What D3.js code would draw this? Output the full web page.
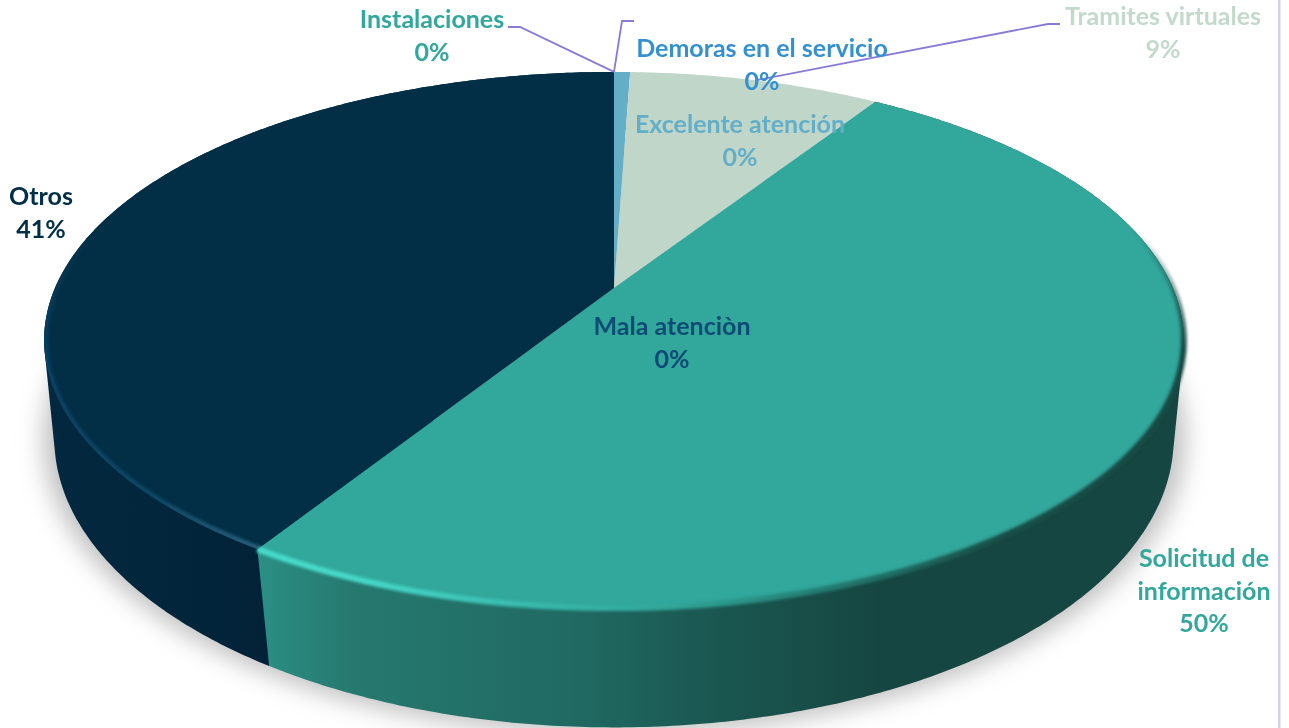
<!DOCTYPE html>
<html>
<head>
<meta charset="utf-8">
<script src="https://cdn.jsdelivr.net/npm/d3@7"></script>
<style>
html, body { margin: 0; padding: 0; background: #fff; overflow: hidden; }
svg { display: block; }
text { font-family: Lato, sans-serif; font-weight: 700; font-size: 25px; text-anchor: middle; }
</style>
</head>
<body>
<div class="visContainer"></div>
<script>
const w = 1289;
const h = 728;

// clockwise from twelve o'clock
const categories = ['Excelente atención', 'Tramites virtuales', 'Solicitud de información', 'Otros', 'Mala atenciòn', 'Demoras en el servicio', 'Instalaciones'];
const values = [0.55, 8.6, 49.8, 41.05, 0, 0, 0];
const percents = ['0%', '9%', '50%', '41%', '0%', '0%', '0%'];
const sliceColors = ['#64aec8', '#bfd6c8', '#32a79c', '#022f46', '#0f4c75', '#3490d0', '#32a79c'];
const labelColors = ['#64aec8', '#c3d9cb', '#32a79c', '#032f47', '#0f4c75', '#3490d0', '#32a79c'];
const labelLines = [['Excelente atención'], ['Tramites virtuales'], ['Solicitud de', 'información'], ['Otros'], ['Mala atenciòn'], ['Demoras en el servicio'], ['Instalaciones']];
const labelX = [740, 1163, 1204, 41, 672, 762, 432];
const labelY = [133, 25, 567, 205, 335, 57, 28];

const lineGap = 32.5;
const pieCx = 614;

// the disc is a circle seen in perspective, so the hub is not the middle of the ellipse
const topFace = { cy: 288, a: 559, b: 258, k: 0.194 };
const bottomFace = { cy: 388, a: 551, b: 280, k: 0.175 };

function project(face, angle) {
	const d = 1 + face.k * Math.cos(angle);
	return [pieCx + (face.a * Math.sin(angle)) / d, face.cy - (face.b * Math.cos(angle)) / d];
}

function rim(face, a0, a1) {
	const n = Math.max(2, Math.ceil(Math.abs(a1 - a0) / 0.01));
	return d3.range(n + 1).map((i) => project(face, a0 + ((a1 - a0) * i) / n));
}

const slices = d3.pie().sort(null).value((d) => d)(values);
const line = d3.line();

const svg = d3.select('.visContainer').append('svg').attr('width', w).attr('height', h);
const defs = svg.append('defs');

function blur(id, amount) {
	defs.append('filter')
		.attr('id', id)
		.attr('x', '-20%')
		.attr('y', '-20%')
		.attr('width', '140%')
		.attr('height', '140%')
		.append('feGaussianBlur')
		.attr('stdDeviation', amount);
}
blur('shadowBlur', 12);
blur('rimBlur', 1.7);
blur('textBlur', 0.35);

function gradient(id, x1, x2, y1, y2, stops) {
	const g = defs.append('linearGradient')
		.attr('id', id)
		.attr('gradientUnits', 'userSpaceOnUse')
		.attr('x1', x1)
		.attr('x2', x2)
		.attr('y1', y1)
		.attr('y2', y2);
	stops.forEach((s) => g.append('stop').attr('offset', s[0]).attr('stop-color', s[1]));
}

gradient('tealSide', 258, 880, 0, 0, [[0, '#2b8f85'], [0.15, '#26796f'], [0.5, '#206a63'], [0.75, '#1a5650'], [1, '#164641']]);
gradient('navySide', 40, 265, 0, 0, [[0, '#03283f'], [0.5, '#02263c'], [1, '#022237']]);
gradient('tealRim', 258, 1184, 0, 0, [[0, '#47dccb'], [0.12, '#45d8c8'], [0.3, '#38b9ac'], [0.45, '#30a598'], [0.62, '#227a70'], [0.8, '#175048'], [1, '#154a44']]);
gradient('navyRim', 40, 260, 0, 0, [[0, '#064062'], [0.5, '#0d4765'], [1, '#2a5f7c']]);
gradient('rimFade', 0, 0, 230, 350, [[0, '#000'], [1, '#fff']]);

defs.append('mask')
	.attr('id', 'rimMask')
	.attr('maskUnits', 'userSpaceOnUse')
	.attr('x', 0)
	.attr('y', 0)
	.attr('width', w)
	.attr('height', h)
	.append('rect')
	.attr('width', w)
	.attr('height', h)
	.attr('fill', 'url(#rimFade)');

defs.append('clipPath')
	.attr('id', 'topClip')
	.append('path')
	.attr('d', line(rim(topFace, 0, 2 * Math.PI)) + 'Z');

// vertical rule at the right of the frame
svg.append('rect').attr('x', 1278).attr('y', 0).attr('width', 2.5).attr('height', h).attr('fill', '#d3cfef');

// soft shadow under the disc
svg.append('path')
	.attr('d', line(rim(bottomFace, 0, 2 * Math.PI)) + 'Z')
	.attr('fill', '#c0c0c0')
	.attr('transform', 'translate(-12, -8) scale(1.02)')
	.attr('filter', 'url(#shadowBlur)');

// side walls: the hull keeps the silhouette straight between the two rims
const walls = [[3, 'url(#navySide)'], [2, 'url(#tealSide)']];
walls.forEach((wall) => {
	const s = slices[wall[0]];
	const pts = rim(topFace, s.startAngle, s.endAngle).concat(rim(bottomFace, s.startAngle, s.endAngle));
	svg.append('path').attr('d', line(d3.polygonHull(pts)) + 'Z').attr('fill', wall[1]);
});

// top face
slices.forEach((s, i) => {
	if (s.endAngle === s.startAngle) return;
	const pts = [[pieCx, topFace.cy]].concat(rim(topFace, s.startAngle, s.endAngle));
	svg.append('path').attr('d', line(pts) + 'Z').attr('fill', sliceColors[i]);
});

// lit bevel along the front rim, fading out towards the back of the disc
const teal = slices[2];
const navy = slices[3];
const bevel = svg.append('g').attr('mask', 'url(#rimMask)');
bevel.append('path')
	.attr('d', line(rim(topFace, teal.endAngle, 1.2)))
	.attr('fill', 'none')
	.attr('stroke', 'url(#tealRim)')
	.attr('stroke-width', 6)
	.attr('filter', 'url(#rimBlur)');
bevel.append('g')
	.attr('clip-path', 'url(#topClip)')
	.append('path')
	.attr('d', line(rim(topFace, navy.startAngle, 1.62 * Math.PI)))
	.attr('fill', 'none')
	.attr('stroke', 'url(#navyRim)')
	.attr('stroke-width', 8)
	.attr('filter', 'url(#rimBlur)');

// leader lines start on the rim of their slice
const instalaciones = project(topFace, slices[6].startAngle);
const demoras = project(topFace, slices[5].startAngle);
const tramites = project(topFace, (slices[1].startAngle + slices[1].endAngle) / 2);
const leaders = [
	[[508, 27], [520, 27], instalaciones],
	[demoras, [622, 21], [634, 21]],
	[tramites, [1048, 24], [1060, 24]],
];
svg.selectAll('.leader')
	.data(leaders)
	.enter()
	.append('path')
	.attr('class', 'leader')
	.attr('d', (d) => line(d))
	.attr('fill', 'none')
	.attr('stroke', '#8a7ad8')
	.attr('stroke-width', 1.8);

// labels
categories.forEach((c, i) => {
	const t = svg.append('text').attr('fill', labelColors[i]).attr('filter', 'url(#textBlur)');
	const rows = labelLines[i].concat(percents[i]);
	rows.forEach((row, j) => {
		t.append('tspan')
			.attr('x', labelX[i])
			.attr('y', labelY[i] + j * lineGap)
			.text(row);
	});
});
</script>
</body>
</html>
